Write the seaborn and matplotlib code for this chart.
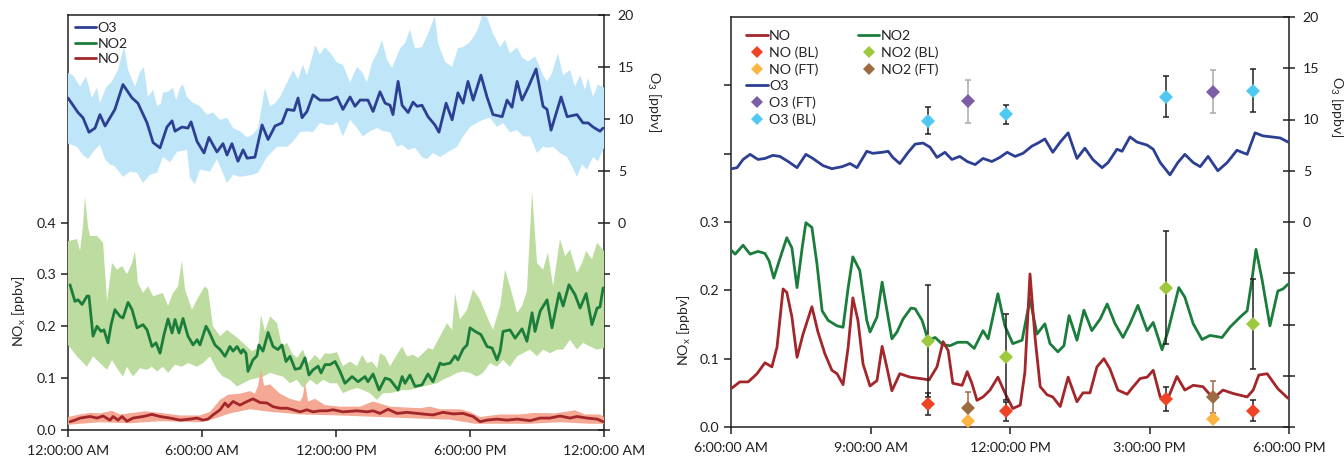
import numpy as np
import matplotlib
matplotlib.use("Agg")
from matplotlib import pyplot as plt
from matplotlib.lines import Line2D
import seaborn as sns

# ---------------- left panel: 24 h diurnal cycle (hours since midnight) ----------------
o3_t = [0.00, 0.45, 0.67, 0.94, 1.21, 1.43, 1.66, 2.10, 2.46, 2.87, 3.13, 3.54, 3.81, 4.12, 4.43, 4.66,
        4.79, 5.10, 5.37, 5.51, 5.78, 6.09, 6.31, 6.67, 6.94, 7.12, 7.34, 7.61, 7.84, 8.02, 8.37, 8.69,
        8.96, 9.27, 9.58, 9.81, 10.12, 10.30, 10.48, 10.70, 10.97, 11.28, 11.73, 12.05, 12.31, 12.63,
        12.85, 13.08, 13.43, 13.66, 13.97, 14.20, 14.42, 14.55, 14.78, 14.96, 15.23, 15.45, 15.63, 15.85,
        16.12, 16.43, 16.61, 16.93, 17.20, 17.46, 17.69, 17.91, 18.14, 18.49, 18.76, 19.03, 19.44, 19.66,
        19.88, 20.11, 20.33, 20.60, 20.96, 21.27, 21.45, 21.63, 22.08, 22.35, 22.79, 23.06, 23.29, 23.51,
        23.82, 23.96]
o3_mean = [12.0, 10.6, 10.1, 8.7, 9.1, 10.4, 9.3, 10.9, 13.3, 12.0, 11.5, 9.6, 7.7, 7.2, 9.2, 9.8,
           8.8, 9.2, 9.1, 9.7, 7.8, 6.7, 8.2, 6.8, 7.6, 6.5, 7.6, 5.9, 7.0, 6.2, 6.3, 9.4,
           8.0, 9.3, 9.6, 10.9, 10.8, 12.0, 10.1, 10.7, 12.3, 11.8, 11.8, 12.1, 10.9, 12.1,
           11.2, 11.8, 11.8, 10.7, 12.6, 11.5, 11.3, 10.4, 13.6, 11.3, 10.6, 11.6, 11.2, 11.3,
           10.2, 9.4, 8.7, 11.5, 9.9, 12.5, 11.5, 13.6, 11.8, 14.2, 12.1, 10.4, 10.2, 11.8,
           11.1, 13.6, 11.8, 13.0, 14.8, 11.2, 10.9, 8.9, 12.1, 10.2, 10.4, 9.6, 9.6, 9.2,
           8.8, 9.1]

o3_hi_t = [0.00, 0.22, 0.54, 0.81, 1.07, 1.30, 1.43, 1.70, 1.97, 2.24, 2.51, 2.69, 3.00, 3.22, 3.40, 3.58,
           3.81, 3.99, 4.16, 4.25, 4.48, 4.70, 4.84, 5.02, 5.15, 5.33, 5.55, 5.91, 6.22, 6.49, 6.81, 7.12,
           7.39, 7.70, 8.02, 8.28, 8.51, 8.82, 9.05, 9.27, 9.49, 9.81, 10.08, 10.30, 10.52, 10.70, 10.97,
           11.06, 11.28, 11.51, 11.73, 12.05, 12.31, 12.63, 12.94, 13.17, 13.39, 13.61, 13.84, 14.06,
           14.28, 14.51, 14.87, 15.09, 15.31, 15.54, 15.85, 16.12, 16.43, 16.57, 16.88, 17.20, 17.46,
           17.69, 18.00, 18.31, 18.54, 18.76, 19.03, 19.35, 19.57, 19.79, 20.11, 20.33, 20.60, 20.91,
           21.05, 21.27, 21.45, 21.67, 21.94, 22.17, 22.48, 22.70, 22.93, 23.15, 23.29, 23.51, 23.73, 24.00]
o3_hi = [14.4, 14.2, 13.1, 14.1, 12.0, 13.0, 11.5, 13.0, 13.6, 14.7, 17.0, 14.7, 13.1, 14.5, 15.0, 12.1,
         12.8, 11.2, 11.5, 12.5, 12.6, 13.0, 11.8, 13.0, 13.3, 12.1, 11.6, 11.2, 10.4, 10.6, 9.9, 10.1,
         9.1, 8.8, 8.2, 8.5, 9.1, 13.0, 11.2, 11.5, 12.1, 13.5, 14.7, 13.8, 15.2, 14.2, 16.2,
         17.1, 16.2, 16.9, 16.4, 15.4, 15.2, 13.5, 15.0, 14.5, 13.5, 15.4, 16.3, 17.6,
         15.7, 14.9, 16.8, 17.3, 18.6, 16.8, 16.9, 18.2, 19.9, 17.3, 15.5, 15.0, 16.8,
         16.9, 17.4, 18.4, 19.9, 19.8, 18.2, 16.9, 17.6, 16.3, 16.9, 15.9, 15.5, 16.0,
         15.4, 14.2, 13.6, 14.4, 16.3, 14.2, 14.7, 13.1, 14.2, 12.8, 13.9, 12.1, 13.3, 13.0]

o3_lo_t = [0.00, 0.40, 0.67, 0.90, 1.12, 1.43, 1.66, 1.88, 2.10, 2.46, 2.78, 3.09, 3.36, 3.67, 3.99, 4.25,
           4.57, 4.88, 5.33, 5.46, 5.69, 5.91, 6.36, 6.67, 7.12, 7.39, 7.70, 8.28, 8.51, 8.91, 9.36, 9.81,
           10.08, 10.39, 10.70, 10.97, 11.28, 11.60, 11.87, 12.05, 12.31, 12.63, 12.94, 13.21, 13.52,
           13.84, 14.11, 14.42, 14.73, 14.96, 15.23, 15.54, 15.85, 16.08, 16.34, 16.66, 17.02, 17.42,
           17.69, 18.00, 18.31, 18.58, 18.90, 19.21, 19.48, 19.79, 20.11, 20.37, 20.69, 21.00, 21.27,
           21.49, 21.72, 22.03, 22.35, 22.57, 22.79, 23.02, 23.24, 23.51, 23.73, 24.00]
o3_lo = [7.6, 7.3, 6.5, 6.1, 6.8, 7.5, 6.1, 5.6, 5.4, 4.4, 4.9, 4.8, 3.8, 4.6, 4.8, 6.3,
         5.8, 6.8, 7.0, 4.3, 3.7, 5.1, 4.9, 6.1, 3.8, 4.6, 4.4, 4.6, 4.8, 6.3, 7.3, 7.3,
         7.8, 8.7, 8.8, 8.7, 9.6, 9.4, 9.4, 9.7, 8.3, 9.9, 9.1, 8.3, 8.8,
         9.1, 8.8, 8.7, 7.3, 7.5, 7.0, 7.2, 6.3, 6.1, 6.7, 6.3, 6.8, 7.3,
         8.3, 9.2, 9.6, 9.9, 10.1, 9.2, 9.6, 8.7, 8.9, 8.3, 8.3, 6.7, 7.3,
         7.2, 7.3, 6.7, 6.3, 5.4, 4.4, 5.6, 5.1, 6.3, 5.9, 7.2]

no2_t = [0.09, 0.31, 0.45, 0.63, 0.85, 0.94, 1.12, 1.30, 1.48, 1.61, 1.79, 1.93, 2.10, 2.33, 2.46, 2.69,
         2.87, 3.09, 3.36, 3.54, 3.76, 3.94, 4.12, 4.30, 4.48, 4.66, 4.79, 4.97, 5.15, 5.37, 5.60, 5.78,
         5.91, 6.18, 6.31, 6.58, 6.81, 7.03, 7.25, 7.39, 7.57, 7.75, 7.84, 7.97, 8.06, 8.28, 8.46, 8.55,
         8.73, 8.96, 9.18, 9.40, 9.58, 9.76, 9.94, 10.17, 10.39, 10.61, 10.79, 10.97, 11.20, 11.33,
         11.51, 11.73, 11.96, 12.18, 12.40, 12.72, 12.99, 13.30, 13.43, 13.66, 13.93, 14.20, 14.42,
         14.55, 14.78, 14.96, 15.09, 15.31, 15.54, 15.85, 16.12, 16.34, 16.66, 16.79, 17.11, 17.33,
         17.46, 17.69, 17.87, 18.00, 18.23, 18.49, 18.76, 18.99, 19.21, 19.35, 19.48, 19.79, 20.02,
         20.33, 20.55, 20.78, 20.91, 21.14, 21.45, 21.67, 21.99, 22.17, 22.43, 22.70, 22.93, 23.20,
         23.46, 23.69, 23.82, 23.96]
no2_mean = [0.280, 0.248, 0.251, 0.242, 0.258, 0.258, 0.181, 0.200, 0.190, 0.193, 0.168, 0.203, 0.232, 0.219,
            0.216, 0.246, 0.232, 0.197, 0.203, 0.193, 0.161, 0.168, 0.148, 0.184, 0.214, 0.187, 0.213, 0.187,
            0.215, 0.181, 0.164, 0.174, 0.164, 0.200, 0.190, 0.164, 0.155, 0.142, 0.161, 0.152, 0.161, 0.148,
            0.155, 0.148, 0.113, 0.135, 0.143, 0.164, 0.152, 0.188, 0.161, 0.155, 0.164, 0.132, 0.142, 0.117,
            0.119, 0.139, 0.106, 0.116, 0.123, 0.110, 0.126, 0.126, 0.132, 0.113, 0.090, 0.103, 0.093, 0.103,
            0.093, 0.108, 0.077, 0.100, 0.097, 0.090, 0.077, 0.103, 0.090, 0.106, 0.084, 0.087, 0.108, 0.093,
            0.129, 0.126, 0.129, 0.143, 0.135, 0.156, 0.164, 0.197, 0.190, 0.184, 0.161, 0.158, 0.135, 0.152,
            0.190, 0.193, 0.177, 0.195, 0.171, 0.226, 0.190, 0.229, 0.251, 0.197, 0.264, 0.239, 0.280, 0.261,
            0.235, 0.263, 0.203, 0.235, 0.237, 0.274]

no2_hi_t = [0.00, 0.40, 0.54, 0.67, 0.76, 0.90, 0.99, 1.30, 1.57, 1.75, 1.97, 2.19, 2.42, 2.64, 2.87, 3.00,
            3.13, 3.36, 3.58, 3.81, 4.03, 4.25, 4.48, 4.70, 4.93, 5.10, 5.24, 5.55, 5.82, 6.13, 6.27, 6.49,
            6.81, 7.12, 7.39, 7.61, 7.93, 8.24, 8.51, 8.64, 8.82, 9.05, 9.36, 9.58, 9.81, 10.03, 10.25,
            10.52, 10.75, 11.06, 11.28, 11.51, 11.73, 12.05, 12.31, 12.63, 12.94, 13.17, 13.39, 13.61,
            13.84, 13.97, 14.20, 14.42, 14.64, 14.96, 15.18, 15.45, 15.67, 15.90, 16.12, 16.34, 16.66,
            16.97, 17.20, 17.33, 17.55, 17.87, 18.14, 18.45, 18.76, 19.03, 19.35, 19.57, 19.79, 20.11,
            20.33, 20.55, 20.78, 21.00, 21.27, 21.49, 21.72, 22.03, 22.26, 22.48, 22.79, 23.02, 23.20,
            23.46, 23.69, 24.00]
no2_hi = [0.364, 0.368, 0.345, 0.393, 0.450, 0.390, 0.374, 0.374, 0.361, 0.248, 0.322, 0.309, 0.316, 0.300,
          0.322, 0.345, 0.284, 0.264, 0.277, 0.258, 0.261, 0.264, 0.239, 0.264, 0.277, 0.326, 0.271, 0.232,
          0.255, 0.277, 0.271, 0.200, 0.181, 0.193, 0.184, 0.177, 0.164, 0.152, 0.158, 0.222, 0.190, 0.219,
          0.206, 0.161, 0.168, 0.148, 0.139, 0.155, 0.129, 0.145, 0.135, 0.148, 0.147, 0.150, 0.123, 0.132,
          0.123, 0.145, 0.129, 0.132, 0.119, 0.148, 0.142, 0.123, 0.139, 0.161, 0.142, 0.145, 0.139, 0.148,
          0.158, 0.155, 0.181, 0.206, 0.193, 0.264, 0.213, 0.232, 0.271, 0.251, 0.219, 0.193, 0.239, 0.309,
          0.277, 0.226, 0.239, 0.268, 0.460, 0.322, 0.309, 0.342, 0.277, 0.368, 0.335, 0.348, 0.303, 0.322,
          0.345, 0.329, 0.361, 0.345]

no2_lo_t = [0.00, 0.40, 0.85, 1.12, 1.43, 1.75, 1.97, 2.24, 2.46, 2.64, 2.91, 3.22, 3.54, 3.76, 3.99, 4.25,
            4.48, 4.79, 5.10, 5.37, 5.78, 6.05, 6.36, 6.67, 6.94, 7.25, 7.57, 7.84, 8.15, 8.46, 8.73, 9.05,
            9.36, 9.63, 9.94, 10.25, 10.52, 10.84, 11.15, 11.42, 11.73, 12.05, 12.31, 12.63, 12.94, 13.21,
            13.52, 13.84, 14.11, 14.42, 14.73, 15.00, 15.31, 15.63, 15.90, 16.21, 16.52, 16.79, 17.11,
            17.42, 17.69, 18.00, 18.31, 18.58, 18.90, 19.21, 19.48, 19.79, 20.11, 20.37, 20.69, 21.00,
            21.27, 21.58, 21.90, 22.17, 22.48, 22.79, 23.06, 23.37, 23.69, 24.00]
no2_lo = [0.164, 0.142, 0.122, 0.142, 0.129, 0.116, 0.135, 0.116, 0.103, 0.122, 0.103, 0.119, 0.116, 0.122,
          0.113, 0.122, 0.110, 0.126, 0.122, 0.129, 0.122, 0.129, 0.142, 0.116, 0.103, 0.097, 0.084, 0.090,
          0.097, 0.100, 0.103, 0.110, 0.106, 0.103, 0.090, 0.097, 0.081, 0.097, 0.087, 0.097, 0.090, 0.090,
          0.071, 0.077, 0.081, 0.077, 0.071, 0.058, 0.071, 0.071, 0.074, 0.077, 0.077, 0.081, 0.084, 0.087,
          0.090, 0.097, 0.103, 0.110, 0.113, 0.110, 0.103, 0.110, 0.129, 0.122, 0.135, 0.122, 0.142, 0.148,
          0.155, 0.142, 0.155, 0.148, 0.155, 0.155, 0.174, 0.155, 0.168, 0.161, 0.155, 0.158]

no_t = [0.09, 0.31, 0.54, 0.99, 1.30, 1.57, 1.88, 2.02, 2.24, 2.42, 2.64, 2.91, 3.36, 3.76, 4.12, 4.57,
        5.02, 5.46, 5.78, 6.05, 6.27, 6.49, 6.81, 7.03, 7.17, 7.39, 7.70, 8.02, 8.28, 8.60, 8.91, 9.18,
        9.49, 9.81, 10.08, 10.39, 10.70, 10.97, 11.28, 11.60, 11.87, 12.31, 12.94, 13.39, 13.66, 13.97,
        14.33, 14.73, 15.18, 15.63, 16.08, 16.34, 16.79, 17.24, 17.69, 18.14, 18.45, 18.76, 19.21, 19.66,
        20.11, 20.69, 21.14, 21.58, 22.03, 22.48, 22.79, 23.24, 23.69, 23.96]
no_mean = [0.016, 0.019, 0.023, 0.026, 0.023, 0.027, 0.019, 0.026, 0.019, 0.026, 0.017, 0.023, 0.026, 0.030,
           0.026, 0.023, 0.019, 0.021, 0.023, 0.019, 0.021, 0.029, 0.039, 0.052, 0.045, 0.055, 0.048, 0.055,
           0.060, 0.053, 0.052, 0.045, 0.042, 0.042, 0.039, 0.035, 0.039, 0.035, 0.037, 0.037, 0.039, 0.035,
           0.037, 0.035, 0.037, 0.032, 0.040, 0.032, 0.034, 0.032, 0.030, 0.029, 0.034, 0.031, 0.032, 0.026,
           0.016, 0.019, 0.021, 0.019, 0.021, 0.018, 0.023, 0.023, 0.027, 0.023, 0.026, 0.023, 0.021, 0.016]

no_hi_t = [0.00, 0.54, 0.99, 1.43, 1.97, 2.33, 2.91, 3.45, 4.12, 5.02, 5.91, 6.36, 6.81, 7.17, 7.70, 8.15,
           8.37, 8.51, 8.64, 8.78, 9.05, 9.49, 9.94, 10.39, 10.52, 10.61, 10.75, 11.06, 11.51, 12.18, 13.08,
           13.66, 14.42, 15.76, 16.21, 16.66, 17.55, 18.00, 18.45, 19.35, 20.24, 20.91, 21.81, 22.70,
           23.15, 23.82, 24.00]
no_hi = [0.025, 0.030, 0.033, 0.032, 0.037, 0.030, 0.033, 0.036, 0.033, 0.028, 0.028, 0.035, 0.058, 0.068,
         0.070, 0.075, 0.070, 0.085, 0.117, 0.085, 0.088, 0.070, 0.060, 0.055, 0.065, 0.093, 0.055, 0.060,
         0.048, 0.045, 0.045, 0.055, 0.045, 0.042, 0.045, 0.040, 0.040, 0.035, 0.025, 0.030, 0.030, 0.033,
         0.032, 0.038, 0.030, 0.030, 0.025]
no_lo_t = [0.00, 1.43, 2.78, 4.12, 5.91, 6.58, 7.25, 8.15, 9.05, 10.39, 12.18, 13.97, 15.76, 17.11, 18.23,
           19.35, 20.69, 22.03, 23.37, 24.00]
no_lo = [0.010, 0.015, 0.013, 0.017, 0.015, 0.022, 0.032, 0.040, 0.035, 0.030, 0.028, 0.025, 0.022, 0.020,
         0.012, 0.012, 0.012, 0.015, 0.012, 0.012]

# ---------------- right panel: one flight day, 6 AM - 6 PM (hours) ----------------
r_o3_t = [6.02, 6.13, 6.26, 6.41, 6.58, 6.73, 6.90, 7.05, 7.23, 7.42, 7.61, 7.76, 7.98, 8.17, 8.39, 8.56,
          8.71, 8.92, 9.05, 9.25, 9.38, 9.48, 9.63, 9.81, 9.96, 10.13, 10.28, 10.43, 10.60, 10.75, 10.92,
          11.08, 11.25, 11.42, 11.61, 11.78, 11.94, 12.11, 12.28, 12.47, 12.60, 12.75, 12.92, 13.08, 13.25,
          13.44, 13.61, 13.78, 13.98, 14.11, 14.30, 14.41, 14.58, 14.73, 14.95, 15.08, 15.23, 15.44, 15.61,
          15.76, 15.94, 16.09, 16.26, 16.47, 16.67, 16.88, 17.10, 17.27, 17.44, 17.63, 17.81, 17.98]
r_o3 = [5.2, 5.3, 6.1, 6.6, 6.1, 6.2, 6.5, 6.4, 5.9, 5.3, 6.6, 6.2, 5.5, 5.2, 5.4, 5.7,
        5.3, 6.9, 6.7, 6.8, 6.9, 6.3, 5.7, 6.8, 7.6, 7.7, 7.3, 6.3, 6.8, 6.1, 6.4,
        5.9, 5.6, 6.2, 5.9, 6.3, 6.8, 6.4, 6.7, 7.4, 7.7, 8.1, 6.8, 7.8, 8.7,
        6.2, 7.2, 6.1, 5.3, 5.8, 7.1, 6.9, 8.3, 7.8, 7.5, 7.1, 5.8, 4.6, 5.8,
        6.6, 5.8, 5.4, 6.4, 5.0, 5.8, 7.0, 6.6, 8.7, 8.4, 8.3, 8.2, 7.8]

r_no2_t = [6.00, 6.09, 6.26, 6.41, 6.58, 6.73, 6.82, 6.92, 7.05, 7.20, 7.31, 7.42, 7.53, 7.61, 7.74, 7.85,
           7.96, 8.09, 8.28, 8.41, 8.52, 8.62, 8.77, 8.92, 8.99, 9.14, 9.25, 9.33, 9.46, 9.57, 9.70, 9.87,
           9.96, 10.11, 10.24, 10.39, 10.56, 10.71, 10.88, 11.08, 11.23, 11.42, 11.53, 11.74, 11.89, 12.06,
           12.26, 12.43, 12.58, 12.75, 12.86, 13.03, 13.16, 13.27, 13.44, 13.59, 13.76, 13.94, 14.09, 14.26,
           14.43, 14.58, 14.75, 14.95, 15.08, 15.27, 15.40, 15.63, 15.76, 15.94, 16.13, 16.30, 16.56, 16.73,
           16.95, 17.10, 17.20, 17.29, 17.42, 17.59, 17.76, 17.87, 17.98]
r_no2 = [0.259, 0.253, 0.266, 0.253, 0.257, 0.254, 0.243, 0.218, 0.246, 0.277, 0.262, 0.204, 0.262, 0.299,
         0.292, 0.238, 0.170, 0.156, 0.148, 0.146, 0.204, 0.249, 0.229, 0.156, 0.139, 0.161, 0.212, 0.180,
         0.129, 0.139, 0.158, 0.174, 0.173, 0.156, 0.127, 0.131, 0.120, 0.119, 0.124, 0.124, 0.115, 0.141,
         0.129, 0.195, 0.148, 0.122, 0.127, 0.187, 0.136, 0.151, 0.122, 0.110, 0.119, 0.163, 0.127, 0.171,
         0.141, 0.158, 0.180, 0.151, 0.131, 0.151, 0.178, 0.141, 0.153, 0.113, 0.141, 0.204, 0.190, 0.151,
         0.128, 0.134, 0.131, 0.146, 0.161, 0.170, 0.214, 0.260, 0.216, 0.148, 0.199, 0.202, 0.209]

r_no_t = [6.00, 6.19, 6.37, 6.56, 6.73, 6.88, 6.99, 7.12, 7.20, 7.31, 7.42, 7.55, 7.74, 7.87, 8.02, 8.17,
          8.28, 8.41, 8.52, 8.62, 8.73, 8.84, 8.99, 9.14, 9.25, 9.35, 9.46, 9.63, 9.85, 10.06, 10.26, 10.43,
          10.56, 10.67, 10.77, 10.97, 11.08, 11.18, 11.29, 11.42, 11.57, 11.74, 11.89, 12.06, 12.22, 12.32,
          12.43, 12.54, 12.65, 12.80, 12.92, 13.08, 13.25, 13.44, 13.57, 13.72, 13.87, 14.02, 14.15, 14.32,
          14.52, 14.65, 14.80, 14.95, 15.08, 15.23, 15.38, 15.59, 15.76, 15.94, 16.15, 16.37, 16.58, 16.80,
          17.10, 17.23, 17.35, 17.53, 17.76, 17.98]
r_no = [0.056, 0.066, 0.066, 0.078, 0.094, 0.088, 0.117, 0.202, 0.197, 0.161, 0.102, 0.136, 0.176, 0.139,
        0.107, 0.083, 0.078, 0.062, 0.117, 0.189, 0.156, 0.092, 0.060, 0.068, 0.118, 0.088, 0.053, 0.078,
        0.073, 0.071, 0.069, 0.088, 0.125, 0.112, 0.064, 0.061, 0.081, 0.064, 0.039, 0.044, 0.054, 0.073,
        0.050, 0.027, 0.032, 0.080, 0.224, 0.130, 0.059, 0.047, 0.044, 0.030, 0.073, 0.037, 0.050, 0.050,
        0.088, 0.100, 0.085, 0.054, 0.048, 0.059, 0.071, 0.073, 0.083, 0.044, 0.039, 0.074, 0.054, 0.061,
        0.059, 0.042, 0.054, 0.049, 0.044, 0.054, 0.076, 0.078, 0.056, 0.042]

# aircraft profiles: boundary layer (BL) and free troposphere (FT)
o3_bl_t = [10.24, 11.91, 15.35, 17.23]
o3_bl = [9.9, 10.5, 12.2, 12.8]
o3_bl_err = [1.3, 0.95, 2.0, 2.1]
o3_ft_t = [11.10, 16.37]
o3_ft = [11.8, 12.7]
o3_ft_err = [2.1, 2.1]
no2_bl_t = [10.24, 11.91, 15.35, 17.23]
no2_bl = [0.126, 0.102, 0.204, 0.151]
no2_bl_err = [0.082, 0.063, 0.083, 0.066]
no2_ft_t = [11.10, 16.37]
no2_ft = [0.028, 0.044]
no2_ft_err = [0.023, 0.023]
no_bl_t = [10.24, 11.91, 15.35, 17.23]
no_bl = [0.034, 0.023, 0.041, 0.024]
no_bl_err = [0.016, 0.014, 0.017, 0.015]
no_ft_t = [11.10, 16.37]
no_ft = [0.009, 0.012]

left_ticks = [0, 6, 12, 18, 24]
left_ticklabels = ["12:00:00 AM", "6:00:00 AM", "12:00:00 PM", "6:00:00 PM", "12:00:00 AM"]
right_ticks = [6, 9, 12, 15, 18]
right_ticklabels = ["6:00:00 AM", "9:00:00 AM", "12:00:00 PM", "3:00:00 PM", "6:00:00 PM"]

C_O3, C_O3_F = "#2c3f93", "#bfe6f8"
C_NO2, C_NO2_F = "#1b7d3b", "#bddc9f"
C_NO, C_NO_F = "#a3262a", "#f5a893"
C_NO_BL, C_NO_FT = "#ef4326", "#fbb540"
C_NO2_BL, C_NO2_FT = "#9dca3c", "#9c6b42"
C_O3_FT, C_O3_BL = "#7d5ea6", "#4fc9f1"
C_AX = "#231f20"

sns.set_style("ticks")
plt.rcParams["font.family"] = ["Lato", "DejaVu Sans"]
plt.rcParams["mathtext.fontset"] = "custom"
plt.rcParams["mathtext.rm"] = "Lato"
plt.rcParams["mathtext.default"] = "regular"
plt.rcParams["axes.edgecolor"] = C_AX
FS = 10.2


def band(ax, t_hi, hi, t_lo, lo, color):
    xs = np.concatenate([t_hi, t_lo[::-1]])
    ys = np.concatenate([hi, lo[::-1]])
    ax.fill(xs, ys, color=color, lw=0, zorder=1)


def line(ax, t, v, color):
    sns.lineplot(x=t, y=v, ax=ax, color=color, lw=2, estimator=None, sort=False, legend=False, zorder=2)


def points(ax, t, v, err, color, ecolor):
    if err is not None:
        ax.errorbar(t, v, yerr=err, fmt="none", ecolor=ecolor, elinewidth=1.1,
                    capsize=2.2, capthick=1.1, zorder=3)
    ax.plot(t, v, "D", ms=7, mew=0, color=color, zorder=4)


def style_axes(ax_o3, ax_nox, xlim, xticks, xlabels, nox_top, nox_ticks, nox_labels):
    ax_o3.set_xlim(*xlim)
    ax_o3.set_ylim(-20, 20)
    ax_nox.set_ylim(0, nox_top)
    ax_o3.set_xticks(xticks)
    ax_o3.set_xticklabels(xlabels, fontsize=FS)
    ax_o3.set_yticks(range(-20, 21, 5))
    ax_o3.set_yticklabels(["", "", "", "", "0", "5", "10", "15", "20"], fontsize=FS)
    ax_nox.set_yticks(nox_ticks)
    ax_nox.set_yticklabels(nox_labels, fontsize=FS)
    ax_o3.yaxis.tick_right()
    ax_nox.yaxis.tick_left()
    ax_o3.tick_params(axis="y", direction="inout", length=8, width=1.1, colors=C_AX, pad=6)
    ax_nox.tick_params(axis="y", direction="out", length=5, width=1.1, colors=C_AX)
    ax_o3.tick_params(axis="x", direction="out", length=5, width=1.1, colors=C_AX, pad=6)
    for s in ax_o3.spines.values():
        s.set_visible(True)
        s.set_linewidth(1.1)
        s.set_zorder(0.9)
    for s in ax_nox.spines.values():
        s.set_visible(False)
    ax_o3.set_xlabel("")
    ax_o3.set_ylabel("")
    ax_nox.set_ylabel("")


fig = plt.figure(figsize=(13.44, 4.63), dpi=100)

# ---- left panel ----
axL = fig.add_axes([68 / 1344, 33 / 463, 536 / 1344, 415 / 463])
axLn = axL.twinx()
band(axL, np.array(o3_hi_t), np.array(o3_hi), np.array(o3_lo_t), np.array(o3_lo), C_O3_F)
line(axL, o3_t, o3_mean, C_O3)
band(axLn, np.array(no2_hi_t), np.array(no2_hi), np.array(no2_lo_t), np.array(no2_lo), C_NO2_F)
band(axLn, np.array(no_hi_t), np.array(no_hi), np.array(no_lo_t), np.array(no_lo), C_NO_F)
line(axLn, no2_t, no2_mean, C_NO2)
line(axLn, no_t, no_mean, C_NO)
style_axes(axL, axLn, (0, 24), left_ticks, left_ticklabels, 0.8,
           [0, 0.1, 0.2, 0.3, 0.4], ["0.0", "0.1", "0.2", "0.3", "0.4"])
axLn.text(-0.09, 0.287, "NO$_{x}$ [ppbv]", transform=axLn.transAxes, rotation=90,
          ha="center", va="center", fontsize=FS)
axLn.text(1.093, 0.79, "O$_{3}$ [ppbv]", transform=axLn.transAxes, rotation=270,
          ha="center", va="center", fontsize=FS)
hL = [Line2D([], [], color=C_O3, lw=2), Line2D([], [], color=C_NO2, lw=2), Line2D([], [], color=C_NO, lw=2)]
axLn.legend(hL, ["O3", "NO2", "NO"], loc="upper left", bbox_to_anchor=(0.0, 1.0), frameon=False,
            fontsize=FS, handlelength=1.5, handletextpad=0.1, labelspacing=0.25, borderpad=0.3,
            borderaxespad=0.2)

# ---- right panel ----
axR = fig.add_axes([731 / 1344, 36 / 463, 558 / 1344, 410 / 463])
axRn = axR.twinx()
line(axR, r_o3_t, r_o3, C_O3)
line(axRn, r_no2_t, r_no2, C_NO2)
line(axRn, r_no_t, r_no, C_NO)
points(axR, o3_bl_t, o3_bl, o3_bl_err, C_O3_BL, C_AX)
points(axR, o3_ft_t, o3_ft, o3_ft_err, C_O3_FT, "#a7a9ac")
points(axRn, no2_bl_t, no2_bl, no2_bl_err, C_NO2_BL, C_AX)
points(axRn, no_bl_t, no_bl, no_bl_err, C_NO_BL, C_AX)
points(axRn, no2_ft_t, no2_ft, no2_ft_err, C_NO2_FT, C_NO2_FT)
points(axRn, no_ft_t, no_ft, None, C_NO_FT, None)
style_axes(axR, axRn, (6, 18), right_ticks, right_ticklabels, 0.6,
           [0, 0.1, 0.2, 0.3, 0.4, 0.5], ["0.0", "0.1", "0.2", "0.3", "", ""])
axRn.text(-0.084, 0.237, "NO$_{x}$ [ppbv]", transform=axRn.transAxes, rotation=90,
          ha="center", va="center", fontsize=FS)
axRn.text(1.086, 0.78, "O$_{3}$ [ppbv]", transform=axRn.transAxes, rotation=270,
          ha="center", va="center", fontsize=FS)

blank = Line2D([], [], ls="none")
dia = lambda c: Line2D([], [], ls="none", marker="D", ms=6, mew=0, color=c)
hR = [Line2D([], [], color=C_NO, lw=2), dia(C_NO_BL), dia(C_NO_FT),
      Line2D([], [], color=C_O3, lw=2), dia(C_O3_FT), dia(C_O3_BL),
      Line2D([], [], color=C_NO2, lw=2), dia(C_NO2_BL), dia(C_NO2_FT), blank, blank, blank]
labR = ["NO", "NO (BL)", "NO (FT)", "O3", "O3 (FT)", "O3 (BL)",
        "NO2", "NO2 (BL)", "NO2 (FT)", "", "", ""]
axRn.legend(hR, labR, ncol=2, loc="upper left", bbox_to_anchor=(0.015, 0.985), frameon=False,
            fontsize=FS, handlelength=1.5, handletextpad=0.1, labelspacing=0.3, borderpad=0.3,
            columnspacing=2.8, borderaxespad=0.2)

fig.savefig("out.png", dpi=100)
